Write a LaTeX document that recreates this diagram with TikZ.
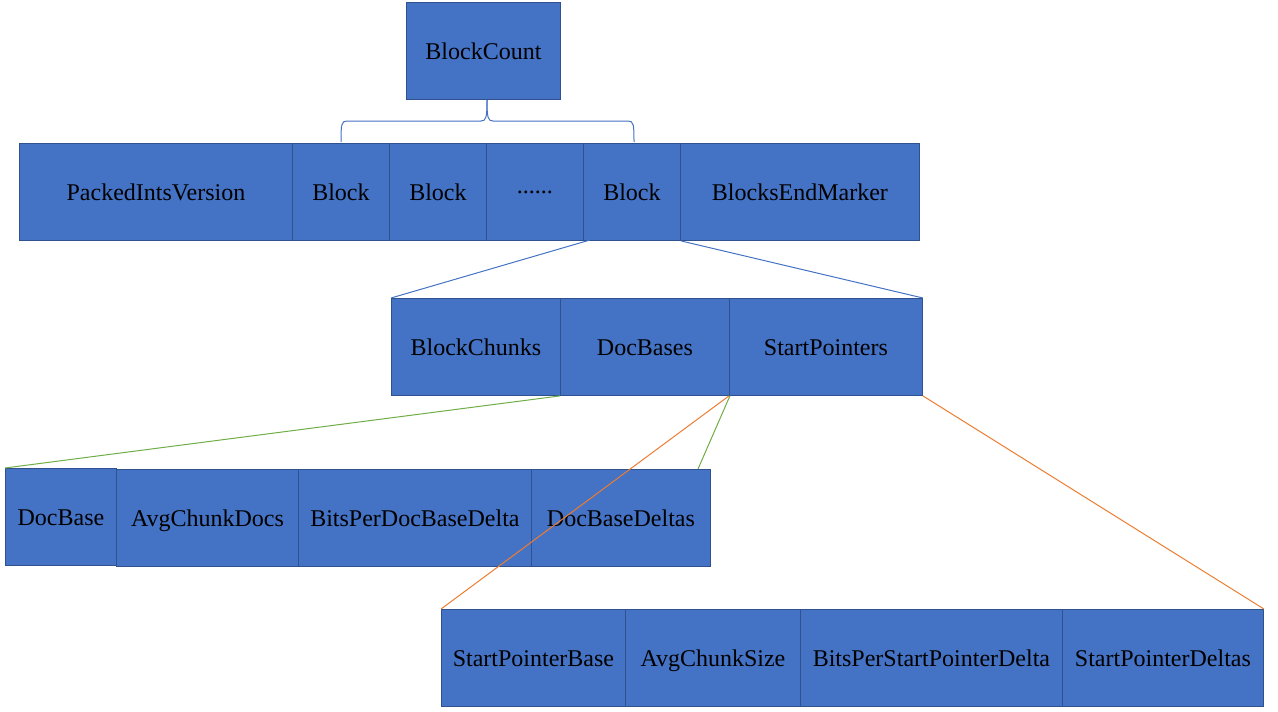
\documentclass[tikz,border=0pt]{standalone}
\usepackage{fontspec}
\setmainfont{Liberation Serif}
\definecolor{boxfill}{HTML}{4472C4}
\definecolor{boxline}{HTML}{2F528F}
\definecolor{lblue}{HTML}{4472C4}
\definecolor{lgreen}{HTML}{70AD47}
\definecolor{lorange}{HTML}{ED7D31}
\tikzset{
  cell/.style={draw=boxline, fill=boxfill, line width=0.9pt, inner sep=0pt, anchor=north west,
    font=\fontsize{24pt}{28pt}\selectfont, text=black, text height=20pt, text depth=3pt},
  bline/.style={draw=lblue, line width=1pt},
  gline/.style={draw=lgreen, line width=1pt},
  oline/.style={draw=lorange, line width=1pt}
}
\newcommand{\cellnode}[6]{\node[cell, minimum width=#4pt-#2pt, minimum height=#5pt-#3pt] (#1) at (#2,#3) {#6};}
\begin{document}
\begin{tikzpicture}[x=1pt,y=-1pt]
\useasboundingbox (0,0) rectangle (1278,712);
% top
\cellnode{bc}{406}{2}{560}{99}{BlockCount}
% row 1
\cellnode{piv}{19}{143}{292}{240}{PackedIntsVersion}
\cellnode{b1}{292}{143}{389}{240}{Block}
\cellnode{b2}{389}{143}{486}{240}{Block}
\cellnode{bd}{486}{143}{583}{240}{\raisebox{7pt}{......}}
\cellnode{b4}{583}{143}{680}{240}{Block}
\cellnode{bem}{680}{143}{919}{240}{BlocksEndMarker}
% row 2
\cellnode{chunks}{391}{298}{560}{395}{BlockChunks}
\cellnode{docb}{560}{298}{729}{395}{DocBases}
\cellnode{sp}{729}{298}{922}{395}{StartPointers}
% row 3
\cellnode{db}{5}{468}{116}{565}{DocBase}
\cellnode{acd}{116}{469}{298}{566}{AvgChunkDocs}
\cellnode{bpd}{298}{469}{531}{566}{BitsPerDocBaseDelta}
\cellnode{dbd}{531}{469}{710}{566}{DocBaseDeltas}
% row 4
\cellnode{spb}{441}{609}{625}{706}{StartPointerBase}
\cellnode{acs}{625}{609}{800}{706}{AvgChunkSize}
\cellnode{bps}{800}{609}{1062}{706}{BitsPerStartPointerDelta}
\cellnode{spd}{1062}{609}{1263}{706}{StartPointerDeltas}
% brace
\coordinate (tip) at (487,100);
\coordinate (bl) at (341,142);
\coordinate (br) at (634,142);
\draw[bline] (bl) .. controls (341,124) and (341.5,121) .. (347,121) -- (481,121)
  .. controls (486,121) and (487,118) .. (tip);
\draw[bline] (br) .. controls (634,124) and (633.5,121) .. (628,121) -- (493,121)
  .. controls (488,121) and (487,118) .. (tip);
% connectors
\coordinate (b4l) at (590,240);
\draw[bline] (b4l) -- (chunks.north west);
\draw[bline] (b4.south east) -- (sp.north east);
\coordinate (dbdt) at (698,469);
\draw[gline] (docb.south west) -- (db.north west);
\draw[gline] (docb.south east) -- (dbdt);
\draw[oline] (sp.south west) -- (spb.north west);
\draw[oline] (sp.south east) -- (spd.north east);
\end{tikzpicture}
\end{document}
